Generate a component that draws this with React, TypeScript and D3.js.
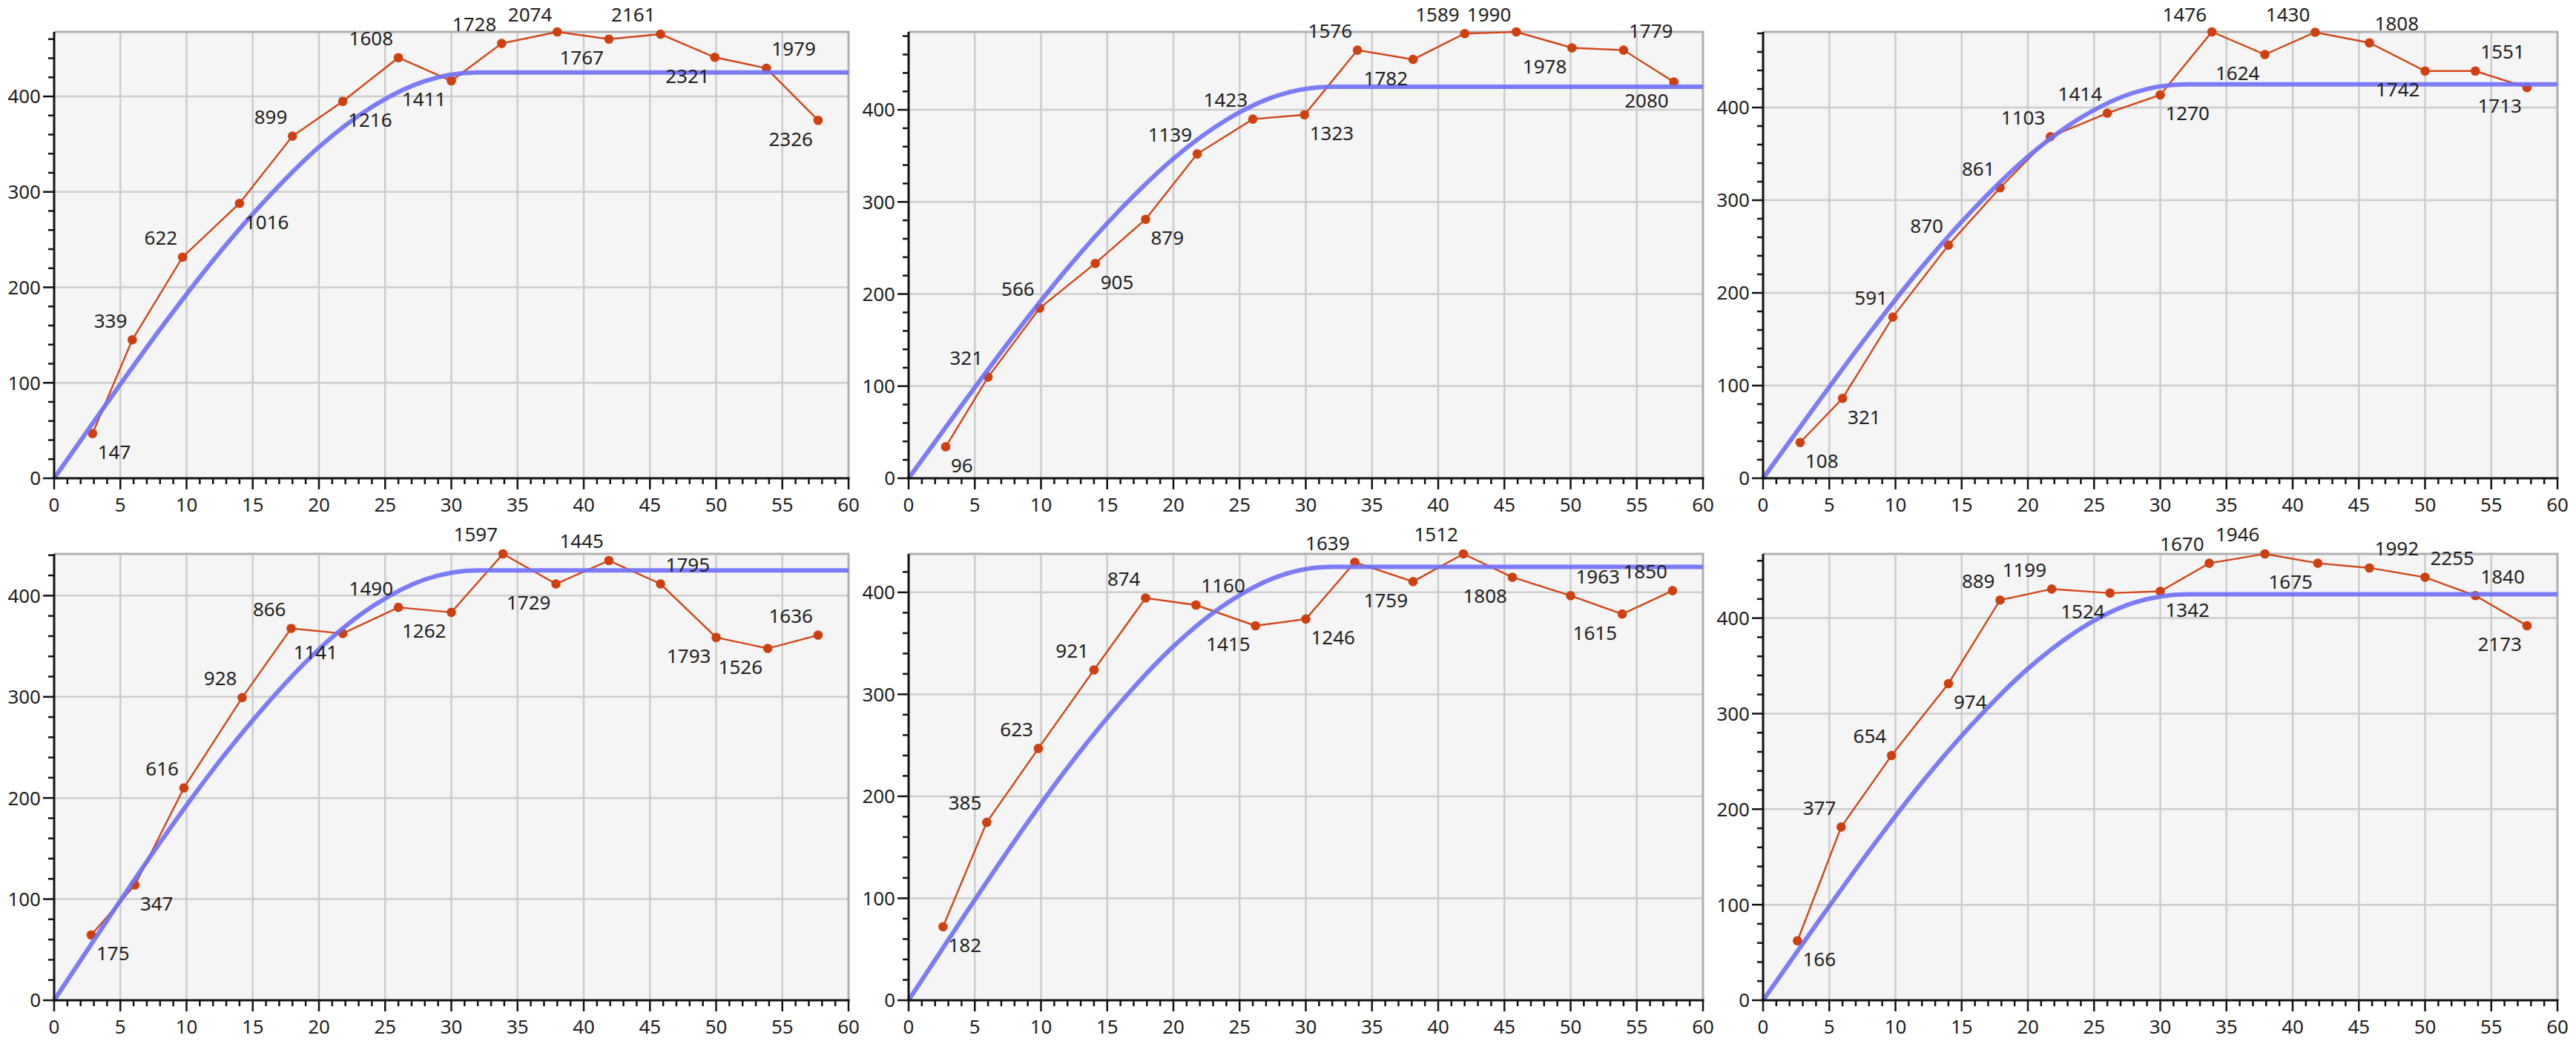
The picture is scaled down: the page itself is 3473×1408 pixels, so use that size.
import React, { useEffect, useRef } from 'react';
import * as d3 from 'd3';

// experimental semivariograms: mean lag distance, semivariance, pair count, label side
const lags1 = [2.9, 5.9, 9.7, 14.0, 18.0, 21.8, 26.0, 30.0, 33.8, 38.0, 41.9, 45.8, 49.9, 53.8, 57.7];
const gamma1 = [46.8, 145, 231.7, 288, 358.4, 394.8, 440.6, 416.3, 455.5, 467.6, 460, 465.2, 441, 429.5, 375];
const pairs1 = [147, 339, 622, 1016, 899, 1216, 1608, 1411, 1728, 2074, 1767, 2161, 2321, 1979, 2326];
const sides1 = ['br', 'tl', 'tl', 'br', 'tl', 'br', 'tl', 'bl', 'tl', 'tl', 'bl', 'tl', 'bl', 'tr', 'bl'];

const lags2 = [2.8, 6.0, 9.9, 14.1, 17.9, 21.8, 26.0, 29.9, 33.9, 38.1, 42.0, 45.9, 50.1, 54.0, 57.8];
const gamma2 = [34.2, 109.8, 184.7, 233.3, 281.2, 352.1, 389.9, 394.6, 464.8, 454.7, 482.8, 484.6, 467.3, 464.8, 430.2];
const pairs2 = [96, 321, 566, 905, 879, 1139, 1423, 1323, 1576, 1782, 1589, 1990, 1978, 1779, 2080];
const sides2 = ['br', 'tl', 'tl', 'br', 'br', 'tl', 'tl', 'br', 'tl', 'bl', 'tl', 'tl', 'bl', 'tr', 'bl'];

const lags3 = [2.8, 6.0, 9.8, 14.0, 17.9, 21.7, 26.0, 30.0, 33.9, 37.9, 41.7, 45.8, 50.0, 53.8, 57.7];
const gamma3 = [38.6, 86.2, 173.9, 251.5, 313.4, 368.5, 393.9, 413.6, 481.6, 457.2, 481.2, 469.8, 439.4, 439.4, 421.5];
const pairs3 = [108, 321, 591, 870, 861, 1103, 1414, 1270, 1476, 1624, 1430, 1808, 1742, 1551, 1713];
const sides3 = ['br', 'br', 'tl', 'tl', 'tl', 'tl', 'tl', 'br', 'tl', 'bl', 'tl', 'tr', 'bl', 'tr', 'bl'];

const lags4 = [2.8, 6.1, 9.8, 14.2, 17.9, 21.8, 26.0, 30.0, 33.9, 37.9, 41.9, 45.8, 50.0, 53.9, 57.7];
const gamma4 = [64.5, 114, 209.9, 299.2, 367.6, 362.6, 388.4, 383.5, 441.3, 411.6, 434.7, 411.6, 358.7, 347.8, 361];
const pairs4 = [175, 347, 616, 928, 866, 1141, 1490, 1262, 1597, 1729, 1445, 1795, 1793, 1526, 1636];
const sides4 = ['br', 'br', 'tl', 'tl', 'tl', 'bl', 'tl', 'bl', 'tl', 'bl', 'tl', 'tr', 'bl', 'bl', 'tl'];

const lags5 = [2.6, 5.9, 9.8, 14.0, 17.9, 21.7, 26.2, 30.0, 33.7, 38.1, 41.9, 45.6, 50.0, 53.9, 57.7];
const gamma5 = [72.1, 174.4, 246.9, 323.9, 394.4, 387.5, 367.2, 373.8, 429.5, 410.5, 437.7, 414.8, 396.7, 378.7, 401.6];
const pairs5 = [182, 385, 623, 921, 874, 1160, 1415, 1246, 1639, 1759, 1512, 1808, 1963, 1615, 1850];
const sides5 = ['br', 'tl', 'tl', 'tl', 'tl', 'tr', 'bl', 'br', 'tl', 'bl', 'tl', 'bl', 'tr', 'bl', 'tl'];

const lags6 = [2.6, 5.9, 9.7, 14.0, 17.9, 21.8, 26.2, 30.0, 33.7, 37.9, 41.9, 45.8, 50.0, 53.8, 57.7];
const gamma6 = [62.3, 181.3, 256.2, 331.4, 418.9, 430.4, 426.2, 428, 457.4, 467.2, 457.4, 452.5, 442.7, 423.5, 392];
const pairs6 = [166, 377, 654, 974, 889, 1199, 1524, 1342, 1670, 1946, 1675, 1992, 2255, 1840, 2173];
const sides6 = ['br', 'tl', 'tl', 'br', 'tl', 'tl', 'bl', 'br', 'tl', 'tl', 'bl', 'tr', 'tr', 'tr', 'bl'];

// fitted model curve (same in every panel)
const modelLags = [0, 4, 8, 12, 16, 20, 24, 28, 32, 60];
const modelGamma = [0, 79, 156, 228, 292, 347, 389, 416, 425, 425];

const xTicks = [0, 5, 10, 15, 20, 25, 30, 35, 40, 45, 50, 55, 60];
const yTicks = [0, 100, 200, 300, 400];

const panels = [
  { lags: lags1, gamma: gamma1, pairs: pairs1, sides: sides1 },
  { lags: lags2, gamma: gamma2, pairs: pairs2, sides: sides2 },
  { lags: lags3, gamma: gamma3, pairs: pairs3, sides: sides3 },
  { lags: lags4, gamma: gamma4, pairs: pairs4, sides: sides4 },
  { lags: lags5, gamma: gamma5, pairs: pairs5, sides: sides5 },
  { lags: lags6, gamma: gamma6, pairs: pairs6, sides: sides6 },
];

const WIDTH = 3473;
const HEIGHT = 1408;
const FONT = '"Noto Sans", "Open Sans", sans-serif';

const App = () => {
  const svgRef = useRef<SVGSVGElement>(null);

  useEffect(() => {
    const svg = d3.select(svgRef.current);
    svg.selectAll('*').remove();

    const w = 1071;
    const h = 602;

    panels.forEach((p, i) => {
      const left = (i % 3) * 1152 + 73;
      const top = Math.floor(i / 3) * 704 + 43;

      const x = d3.scaleLinear().domain([0, 60]).range([0, w]);
      const y = d3.scaleLinear().domain([0, d3.max(p.gamma) as number]).range([h, 0]);

      const g = svg.append('g').attr('transform', `translate(${left},${top})`);

      // plot background
      g.append('rect').attr('width', w).attr('height', h).attr('fill', '#f5f5f5');

      // grid
      g.selectAll('.vgrid')
        .data(xTicks.filter(t => t > 0 && t < 60))
        .join('line')
        .attr('x1', d => x(d)).attr('x2', d => x(d))
        .attr('y1', 0).attr('y2', h)
        .attr('stroke', '#cdcdcd').attr('stroke-width', 2.5);
      g.selectAll('.hgrid')
        .data(yTicks.filter(t => t > 0))
        .join('line')
        .attr('x1', 0).attr('x2', w)
        .attr('y1', d => y(d)).attr('y2', d => y(d))
        .attr('stroke', '#cdcdcd').attr('stroke-width', 2.5);

      // top and right border
      g.append('path')
        .attr('d', `M0,0H${w}V${h}`)
        .attr('fill', 'none')
        .attr('stroke', '#b0b0b0')
        .attr('stroke-width', 3);

      // experimental points
      const line = d3.line<number>()
        .x((d, k) => x(p.lags[k]))
        .y(d => y(d));

      g.append('path')
        .datum(p.gamma)
        .attr('d', line)
        .attr('fill', 'none')
        .attr('stroke', '#d2461a')
        .attr('stroke-width', 2.4);

      g.selectAll('.pt')
        .data(p.gamma)
        .join('circle')
        .attr('cx', (d, k) => x(p.lags[k]))
        .attr('cy', d => y(d))
        .attr('r', 6.3)
        .attr('fill', '#cf4010');

      // model curve
      const model = d3.line<number>()
        .x((d, k) => x(modelLags[k]))
        .y(d => y(d))
        .curve(d3.curveMonotoneX);

      g.append('path')
        .datum(modelGamma)
        .attr('d', model)
        .attr('fill', 'none')
        .attr('stroke', '#6f6ff6')
        .attr('stroke-width', 6)
        .attr('stroke-opacity', 0.9);

      // pair-count labels (kept inside the page at the top)
      g.selectAll('.lbl')
        .data(p.pairs)
        .join('text')
        .attr('x', (d, k) => x(p.lags[k]) + (p.sides[k][1] === 'l' ? -7 : 7))
        .attr('y', (d, k) => Math.max(y(p.gamma[k]) + (p.sides[k][0] === 't' ? -26 : 25), 20 - top))
        .attr('dy', '0.36em')
        .attr('text-anchor', (d, k) => (p.sides[k][1] === 'l' ? 'end' : 'start'))
        .style('font-family', FONT)
        .style('font-size', '26px')
        .attr('fill', '#1e1e1e')
        .text(d => d);

      // axes
      const axes = g.append('g');
      axes.append('line')
        .attr('x1', 0).attr('x2', 0).attr('y1', 0).attr('y2', h + 1.5)
        .attr('stroke', '#111').attr('stroke-width', 3);
      axes.append('line')
        .attr('x1', -1.5).attr('x2', w + 1.5).attr('y1', h).attr('y2', h)
        .attr('stroke', '#111').attr('stroke-width', 3);

      const yMax = d3.max(p.gamma) as number;
      axes.selectAll('.ymin')
        .data(d3.range(0, yMax + 0.001, 20))
        .join('line')
        .attr('x1', d => (d % 100 === 0 ? -15 : -8)).attr('x2', 0)
        .attr('y1', d => y(d)).attr('y2', d => y(d))
        .attr('stroke', '#111').attr('stroke-width', 2.5);

      axes.selectAll('.xmin')
        .data(d3.range(0, 61, 1))
        .join('line')
        .attr('x1', d => x(d)).attr('x2', d => x(d))
        .attr('y1', h).attr('y2', d => (d % 5 === 0 ? h + 15 : h + 8))
        .attr('stroke', '#111').attr('stroke-width', 2.5);

      axes.selectAll('.ylab')
        .data(yTicks)
        .join('text')
        .attr('x', -18)
        .attr('y', d => y(d))
        .attr('dy', '0.36em')
        .attr('text-anchor', 'end')
        .style('font-family', FONT)
        .style('font-size', '26px')
        .attr('fill', '#1e1e1e')
        .text(d => d);

      axes.selectAll('.xlab')
        .data(xTicks)
        .join('text')
        .attr('x', d => x(d))
        .attr('y', h + 36)
        .attr('dy', '0.36em')
        .attr('text-anchor', 'middle')
        .style('font-family', FONT)
        .style('font-size', '26px')
        .attr('fill', '#1e1e1e')
        .text(d => d);
    });
  }, []);

  return (
    <svg
      ref={svgRef}
      width={WIDTH}
      height={HEIGHT}
      style={{ position: 'absolute', left: 0, top: 0, background: '#ffffff' }}
    />
  );
};

export default App;
